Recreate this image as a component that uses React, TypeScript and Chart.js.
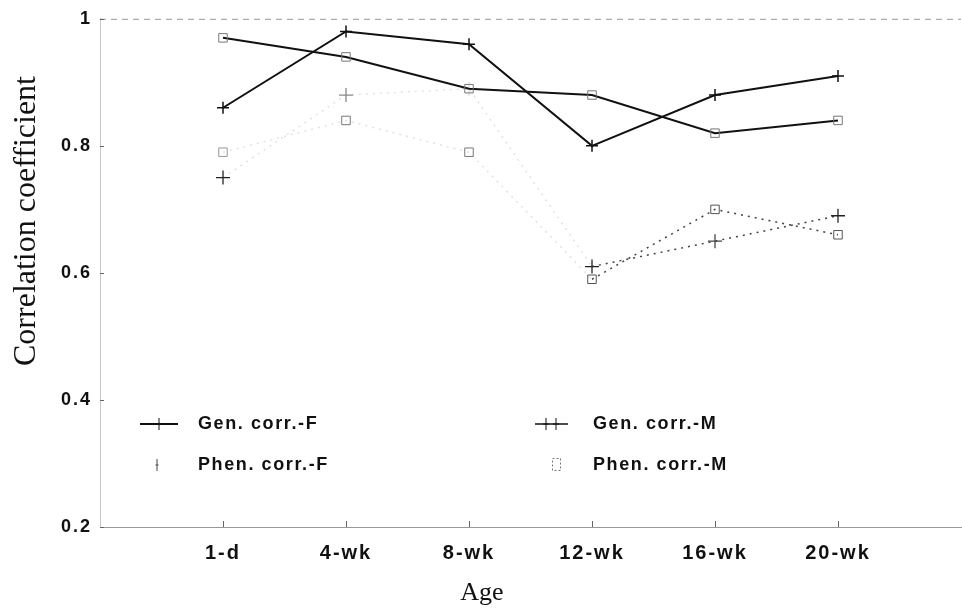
import React, { useEffect, useRef } from 'react';
import { Chart, registerables } from 'chart.js';

Chart.register(...registerables);

// ---- data ----
const categories = ['1-d', '4-wk', '8-wk', '12-wk', '16-wk', '20-wk'];
const genF = [0.86, 0.98, 0.96, 0.8, 0.88, 0.91];
const genM = [0.97, 0.94, 0.89, 0.88, 0.82, 0.84];
const phenF = [0.75, 0.88, 0.89, 0.61, 0.65, 0.69];
const phenM = [0.79, 0.84, 0.79, 0.59, 0.7, 0.66];
const yTicks = [0.2, 0.4, 0.6, 0.8, 1];
const seriesNames = ['Gen. corr.-F', 'Gen. corr.-M', 'Phen. corr.-F', 'Phen. corr.-M'];
const xTitle = 'Age';
const yTitle = 'Correlation coefficient';

const SANS = '"Liberation Sans", Arial, Helvetica, sans-serif';
const SERIF = '"Liberation Serif", "Times New Roman", serif';

const toPoints = (vals: number[]) => vals.map((y, i) => ({ x: i, y }));

function drawCross(c: CanvasRenderingContext2D, x: number, y: number, hw: number, hh: number) {
  c.beginPath();
  c.moveTo(x - hw, y);
  c.lineTo(x + hw, y);
  c.moveTo(x, y - hh);
  c.lineTo(x, y + hh);
  c.stroke();
}

export default function App() {
  const ref = useRef<HTMLCanvasElement>(null);

  useEffect(() => {
    document.body.style.margin = '0';
    const canvas = ref.current!;
    const faint = (i: number) => (i < 3 ? '#e2e2e2' : '#444');

    const decor = {
      id: 'decor',
      beforeDraw(chart: any) {
        (chart.ctx as any).letterSpacing = '2px';
      },
      afterDraw(chart: any) {
        const c = chart.ctx as CanvasRenderingContext2D;
        const { left, right, top, bottom } = chart.chartArea;
        c.save();
        (c as any).letterSpacing = '0px';
        // top dashed frame line
        c.strokeStyle = '#999';
        c.lineWidth = 1;
        c.setLineDash([6, 5]);
        c.beginPath();
        c.moveTo(left, top + 0.5);
        c.lineTo(right, top + 0.5);
        c.stroke();
        c.setLineDash([]);
        // inward tick marks
        c.strokeStyle = '#666';
        const xs = chart.scales.x;
        const ys = chart.scales.y;
        categories.forEach((_, i) => {
          const px = Math.round(xs.getPixelForValue(i)) + 0.5;
          c.beginPath();
          c.moveTo(px, bottom);
          c.lineTo(px, bottom - 6);
          c.stroke();
        });
        yTicks.forEach((v) => {
          const py = Math.round(ys.getPixelForValue(v)) + 0.5;
          c.beginPath();
          c.moveTo(left, py);
          c.lineTo(left + 4, py);
          c.stroke();
        });
        // axis titles
        c.fillStyle = '#111';
        c.textAlign = 'center';
        c.textBaseline = 'middle';
        c.font = `32px ${SERIF}`;
        c.save();
        c.translate(27, 221);
        c.rotate(-Math.PI / 2);
        c.fillText(yTitle, 0, 0);
        c.restore();
        c.font = `26px ${SERIF}`;
        c.fillText(xTitle, 482, 593);

        // legend
        (c as any).letterSpacing = '1.6px';
        c.font = `bold 18px ${SANS}`;
        c.textAlign = 'left';
        c.fillStyle = '#111';
        const rowA = 424;
        const rowB = 465;
        // Gen F
        c.strokeStyle = '#111';
        c.lineWidth = 2;
        c.beginPath();
        c.moveTo(140, rowA);
        c.lineTo(178, rowA);
        c.stroke();
        c.lineWidth = 1;
        drawCross(c, 159, rowA, 3, 6);
        c.fillText(seriesNames[0], 198, rowA);
        // Phen F
        c.strokeStyle = '#444';
        drawCross(c, 157, rowB, 1.5, 6);
        c.fillText(seriesNames[2], 198, rowB);
        // Gen M
        c.strokeStyle = '#111';
        c.lineWidth = 1.5;
        c.beginPath();
        c.moveTo(535, rowA);
        c.lineTo(568, rowA);
        c.stroke();
        c.lineWidth = 1;
        drawCross(c, 546, rowA, 3, 6);
        drawCross(c, 556, rowA, 3, 6);
        c.fillText(seriesNames[1], 593, rowA);
        // Phen M
        c.strokeStyle = '#777';
        c.setLineDash([2, 2]);
        c.strokeRect(552.5, rowB - 6.5, 8, 12);
        c.setLineDash([]);
        c.fillText(seriesNames[3], 593, rowB);
        c.restore();
        (c as any).letterSpacing = '0px';
      },
    };

    const chart = new Chart(canvas, {
      type: 'line',
      data: {
        datasets: [
          {
            label: seriesNames[0],
            data: toPoints(genF),
            borderColor: '#111',
            borderWidth: 2,
            pointStyle: 'cross',
            pointRadius: 6,
            pointBorderColor: '#111',
            pointBorderWidth: 1.5,
          },
          {
            label: seriesNames[1],
            data: toPoints(genM),
            borderColor: '#111',
            borderWidth: 2,
            pointStyle: 'rect',
            pointRadius: 6,
            pointBackgroundColor: 'rgba(0,0,0,0)',
            pointBorderColor: '#777',
            pointBorderWidth: 1,
          },
          {
            label: seriesNames[2],
            data: toPoints(phenF),
            borderColor: '#444',
            borderWidth: 1.5,
            borderDash: [2, 5],
            segment: { borderColor: (ctx: any) => faint(ctx.p0DataIndex) },
            pointStyle: 'cross',
            pointRadius: 7,
            pointBorderColor: ['#222', '#888', '#ddd', '#222', '#444', '#222'],
            pointBorderWidth: 1.3,
          },
          {
            label: seriesNames[3],
            data: toPoints(phenM),
            borderColor: '#444',
            borderWidth: 1.5,
            borderDash: [2, 5],
            segment: { borderColor: (ctx: any) => faint(ctx.p0DataIndex) },
            pointStyle: 'rect',
            pointRadius: 6,
            pointBackgroundColor: 'rgba(0,0,0,0)',
            pointBorderColor: ['#999', '#777', '#777', '#555', '#555', '#555'],
            pointBorderWidth: 1,
          },
        ],
      },
      options: {
        responsive: false,
        animation: false,
        devicePixelRatio: 1,
        layout: { autoPadding: false, padding: { top: 15, right: 1, left: 0, bottom: 0 } },
        elements: { line: { tension: 0, fill: false } },
        plugins: {
          legend: { display: false },
          tooltip: { enabled: false },
          title: { display: false },
        },
        scales: {
          x: {
            type: 'linear',
            min: -1,
            max: 6,
            afterBuildTicks: (scale: any) => {
              scale.ticks = categories.map((_, i) => ({ value: i }));
            },
            afterFit: (scale: any) => {
              scale.height = 88;
              scale.paddingLeft = 0;
              scale.paddingRight = 0;
            },
            ticks: {
              autoSkip: false,
              maxRotation: 0,
              padding: 14,
              color: '#111',
              font: { family: SANS, size: 20, weight: 'bold' },
              callback: (v: any) => categories[v as number] ?? '',
            },
            grid: { display: false, drawTicks: false },
            border: { display: true, color: '#999', width: 1, dash: [7, 5] },
            title: { display: false },
          },
          y: {
            min: 0.2,
            max: 1,
            afterBuildTicks: (scale: any) => {
              scale.ticks = yTicks.map((v) => ({ value: v }));
            },
            afterFit: (scale: any) => {
              scale.width = 100;
            },
            ticks: {
              padding: 8,
              color: '#111',
              font: { family: SANS, size: 18, weight: 'bold' },
              callback: (v: any) => String(Math.round((v as number) * 10) / 10),
            },
            grid: { display: false, drawTicks: false },
            border: { display: true, color: '#c8c8c8', width: 1, dash: [6, 5] },
            title: { display: false },
          },
        },
      },
      plugins: [decor],
    } as any);

    return () => chart.destroy();
  }, []);

  return (
    <div style={{ width: 962, height: 615, background: '#fff' }}>
      <canvas ref={ref} width={962} height={615} style={{ display: 'block' }} />
    </div>
  );
}
